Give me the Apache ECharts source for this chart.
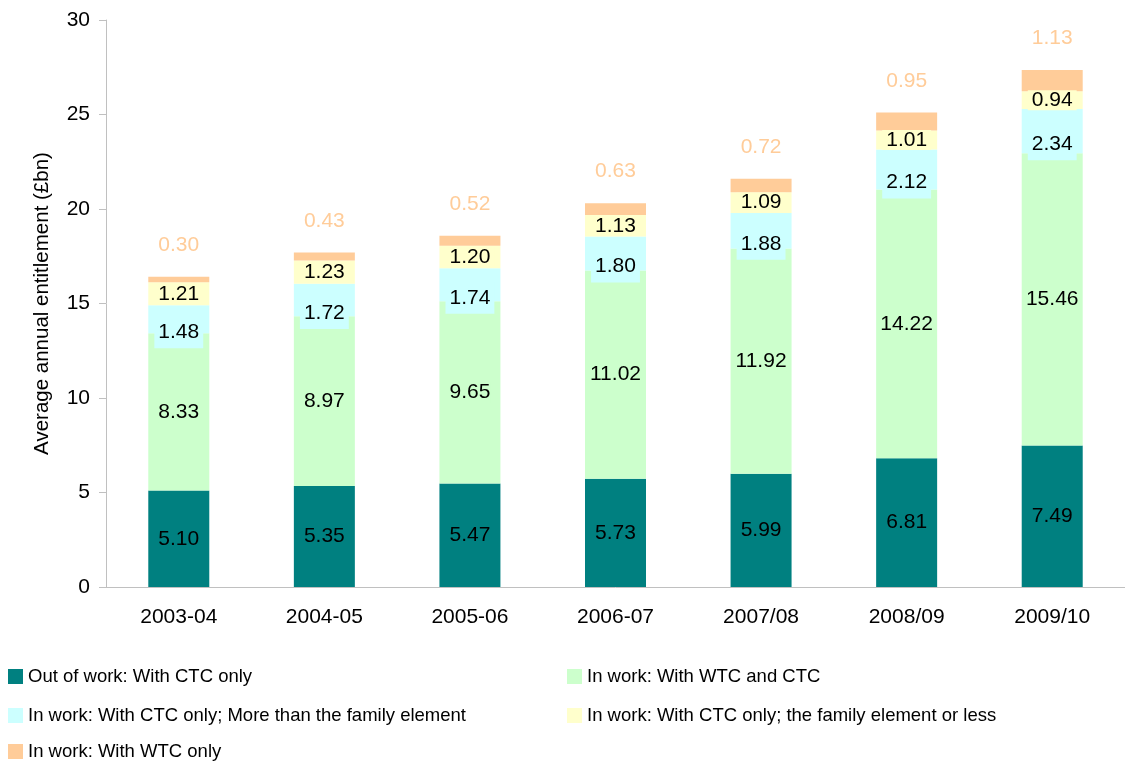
<!DOCTYPE html>
<html>
<head>
<meta charset="utf-8">
<title>Average annual entitlement</title>
<script src="https://cdn.jsdelivr.net/npm/echarts@6/dist/echarts.min.js"></script>
<style>
  html, body { margin: 0; padding: 0; background: #fff; }
  #chart { width: 1125px; height: 761px; }
</style>
</head>
<body>
<div id="chart"></div>
<script>
// categories (years)
var years = ['2003-04', '2004-05', '2005-06', '2006-07', '2007/08', '2008/09', '2009/10']
// stacked series, bottom to top
var outOfWork = [5.10, 5.35, 5.47, 5.73, 5.99, 6.81, 7.49]
var wtcAndCtc = [8.33, 8.97, 9.65, 11.02, 11.92, 14.22, 15.46]
var ctcMore = [1.48, 1.72, 1.74, 1.80, 1.88, 2.12, 2.34]
var ctcFamily = [1.21, 1.23, 1.20, 1.13, 1.09, 1.01, 0.94]
var wtcOnly = [0.30, 0.43, 0.52, 0.63, 0.72, 0.95, 1.13]
var yTicks = [0, 5, 10, 15, 20, 25, 30]

var names = [
  'Out of work: With CTC only',
  'In work: With WTC and CTC',
  'In work: With CTC only; More than the family element',
  'In work: With CTC only; the family element or less',
  'In work: With WTC only'
]
var colors = ['#008080', '#CCFFCC', '#CCFFFF', '#FFFFCC', '#FFCC99']
var values = [outOfWork, wtcAndCtc, ctcMore, ctcFamily, wtcOnly]

var FONT = '"Liberation Sans", Arial, sans-serif'

var myChart = echarts.init(document.getElementById('chart'))

function fmt (p) {
  return p.value.toFixed(2)
}

// label look per layer (the cyan labels sit a bit lower, boxed, like in the excel original)
var labelStyles = [
  { position: 'inside' },
  { position: 'inside' },
  { position: 'inside', offset: [0, 13], padding: [4, 4], lineHeight: 24 },
  { position: 'inside', padding: [0, 4], lineHeight: 20 },
  { position: 'top', distance: 21, color: '#FFCC99' }
]

var series = values.map(function (arr, i) {
  var lab = Object.assign({
    show: true,
    color: '#000',
    fontSize: 21,
    fontFamily: FONT,
    formatter: fmt
  }, labelStyles[i])
  if (i < 4) lab.backgroundColor = colors[i]
  return {
    name: names[i],
    type: 'bar',
    stack: 'total',
    barWidth: 61,
    itemStyle: { color: colors[i] },
    label: lab,
    data: arr
  }
})

// legend laid out in two columns like the original
var legendPos = [
  { left: 8, top: 667 },
  { left: 567, top: 667 },
  { left: 8, top: 706 },
  { left: 567, top: 706 },
  { left: 8, top: 742 }
]
var legends = names.map(function (n, i) {
  return {
    data: [n],
    left: legendPos[i].left,
    top: legendPos[i].top,
    padding: 0,
    itemWidth: 15,
    itemHeight: 15,
    icon: 'rect',
    selectedMode: false,
    textStyle: { fontSize: 18.5, color: '#000', fontFamily: FONT }
  }
})

myChart.setOption({
  animation: false,
  textStyle: { fontFamily: FONT },
  grid: { left: 106, right: -6, top: 20, bottom: 174 },
  legend: legends,
  xAxis: {
    type: 'category',
    data: years,
    axisLine: { lineStyle: { color: '#C0C0C0', width: 1 } },
    axisTick: { length: 7, lineStyle: { color: '#C0C0C0' } },
    axisLabel: { color: '#000', fontSize: 21, margin: 20, fontFamily: FONT }
  },
  yAxis: {
    type: 'value',
    min: yTicks[0],
    max: yTicks[yTicks.length - 1],
    interval: 5,
    name: 'Average annual entitlement (£bn)',
    nameLocation: 'middle',
    nameGap: 53,
    nameTextStyle: { fontSize: 20.5, color: '#000', fontFamily: FONT },
    axisLine: { show: true, lineStyle: { color: '#C0C0C0', width: 1 } },
    axisTick: { show: true, length: 7, lineStyle: { color: '#C0C0C0' } },
    axisLabel: { color: '#000', fontSize: 21, margin: 16, fontFamily: FONT },
    splitLine: { show: false }
  },
  series: series
})
</script>
</body>
</html>
